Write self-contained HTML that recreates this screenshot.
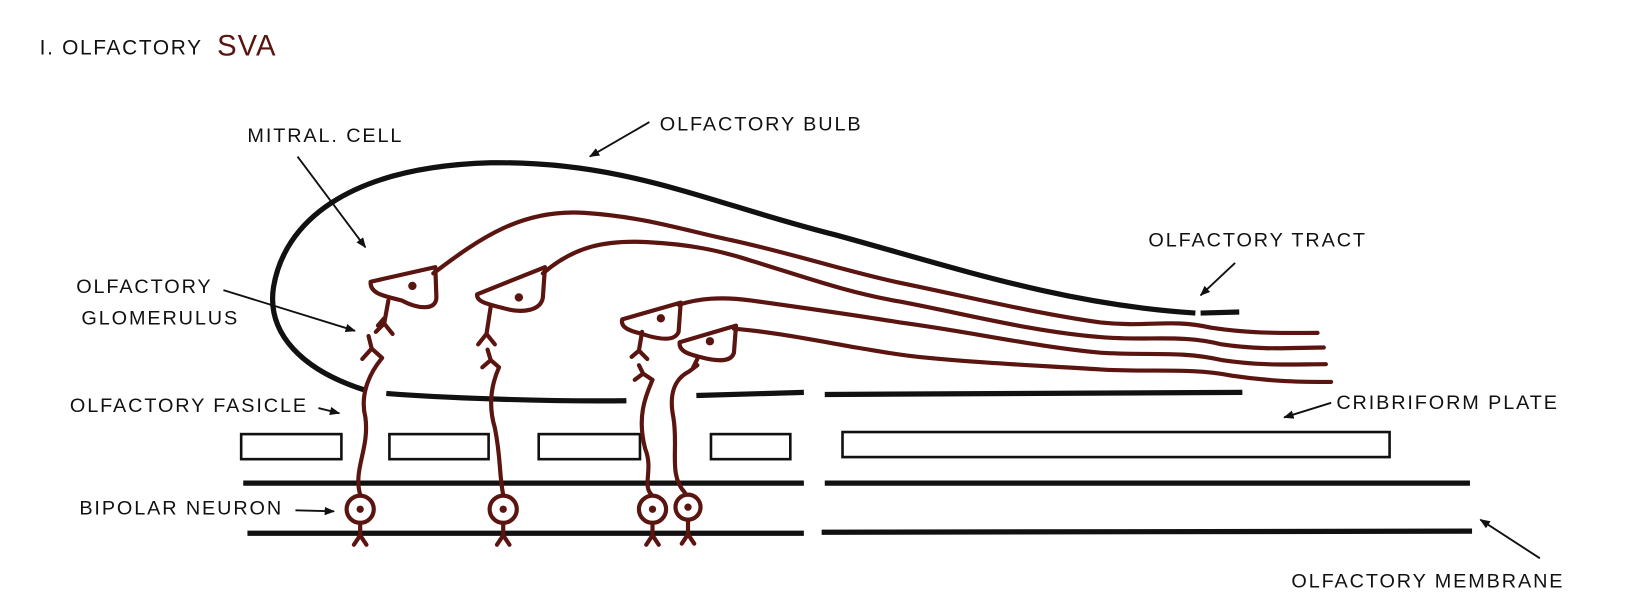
<!DOCTYPE html>
<html><head><meta charset="utf-8"><style>
html,body{margin:0;padding:0;background:#fff;width:1637px;height:599px;overflow:hidden}
svg{display:block}
text{font-family:"Liberation Sans",sans-serif;font-size:19px;fill:#111;letter-spacing:1.8px}
.k{fill:none;stroke:#111;stroke-width:5;stroke-linecap:butt}
.b{fill:none;stroke:#5a1510;stroke-width:4;stroke-linecap:round;stroke-linejoin:round}
.a{stroke:#111;stroke-width:1.8;fill:none}
</style></head><body>
<svg width="1637" height="599" viewBox="0 0 1568 574" preserveAspectRatio="none">
<defs><marker id="m" markerWidth="10" markerHeight="8" refX="9" refY="4" orient="auto" markerUnits="userSpaceOnUse"><path d="M0,0 L10,4 L0,8 z" fill="#111"/></marker></defs>
<text x="38" y="52" style="font-size:20px;letter-spacing:1.6px">I. OLFACTORY</text>
<text x="208" y="53" style="font-size:28px;fill:#5a1510;letter-spacing:1px">SVA</text>

<!-- labels -->
<text x="237" y="136">MITRAL. CELL</text>
<text x="632" y="125">OLFACTORY BULB</text>
<text x="1100" y="236">OLFACTORY TRACT</text>
<text x="73" y="281">OLFACTORY</text>
<text x="78" y="311">GLOMERULUS</text>
<text x="67" y="395">OLFACTORY FASICLE</text>
<text x="1280" y="392">CRIBRIFORM PLATE</text>
<text x="76" y="493">BIPOLAR NEURON</text>
<text x="1237" y="563">OLFACTORY MEMBRANE</text>

<!-- arrows -->
<line class="a" x1="285" y1="150" x2="350" y2="237" marker-end="url(#m)"/>
<line class="a" x1="622" y1="117" x2="565" y2="150" marker-end="url(#m)"/>
<line class="a" x1="1183" y1="252" x2="1150" y2="283" marker-end="url(#m)"/>
<line class="a" x1="214" y1="278" x2="340" y2="317" marker-end="url(#m)"/>
<line class="a" x1="305" y1="391" x2="325" y2="396" marker-end="url(#m)"/>
<line class="a" x1="1275" y1="386" x2="1230" y2="400" marker-end="url(#m)"/>
<line class="a" x1="283" y1="489" x2="320" y2="490" marker-end="url(#m)"/>
<line class="a" x1="1475" y1="535" x2="1418" y2="498" marker-end="url(#m)"/>

<!-- bulb -->
<path class="k" d="M350,374 C290,355 255,320 262,275 C272,215 330,160 470,156 C600,154 680,195 800,225 C920,258 1020,292 1145,300"/>
<path class="k" d="M1150,300 L1187,299"/>
<path class="k" d="M370,377 C420,381 520,385 600,384"/>
<path class="k" d="M667,379 L770,376"/>
<path class="k" d="M790,378 L1190,376"/>

<!-- cribriform plates -->
<g fill="none" stroke="#111" stroke-width="2.5">
<rect x="231" y="416" width="96" height="24"/>
<rect x="373" y="416" width="95" height="24"/>
<rect x="516" y="416" width="97" height="24"/>
<rect x="681" y="416" width="76" height="24"/>
<rect x="807" y="414" width="524" height="24"/>
</g>
<!-- membrane lines -->
<path class="k" d="M233,463 L770,463 M790,463 L1408,463 M237,511 L770,511 M787,510 L1410,509"/>

<!-- mitral axons -->
<path class="b" d="M415,262 C460,228 500,200 560,204 C620,208 660,222 700,230 C760,243 810,260 862,271 C930,285 990,300 1054,309 C1100,314 1120,305 1160,314 C1200,320 1230,319 1262,319"/>
<path class="b" d="M520,262 C550,236 580,230 620,232 C660,234 690,240 720,250 C770,265 810,280 862,289 C930,302 990,318 1054,323 C1100,327 1130,320 1170,330 C1210,336 1240,333 1268,333"/>
<path class="b" d="M650,292 C670,286 690,284 720,288 C770,295 820,302 862,309 C930,318 990,332 1054,338 C1100,341 1130,336 1170,345 C1210,351 1240,349 1270,349"/>
<path class="b" d="M703,315 C740,318 780,326 820,333 C850,338 860,340 880,342 C940,348 990,350 1054,354 C1100,357 1140,352 1180,360 C1220,366 1250,366 1275,366"/>

<!-- mitral cell bodies -->
<path class="b" d="M355,270 L417,256 L418,285 C418,298 400,296 385,288 C370,284 354,282 355,270 z"/>
<path class="b" d="M457,282 L522,256 L520,285 C518,298 500,300 485,296 C470,292 456,290 457,282 z"/>
<path class="b" d="M596,306 L652,290 L650,318 C646,328 630,325 615,320 C603,317 594,314 596,306 z"/>
<path class="b" d="M651,328 L705,312 L703,338 C700,348 685,346 670,342 C658,339 650,336 651,328 z"/>
<g fill="#5a1510">
<circle cx="395" cy="274" r="4"/><circle cx="497" cy="285" r="4"/><circle cx="633" cy="305" r="4"/><circle cx="680" cy="327" r="4"/>
</g>

<!-- glomerulus dendrites -->
<path class="b" d="M372,288 L368,310 M368,310 L360,318 M368,310 L376,320 M368,305 L362,312"/>
<path class="b" d="M470,294 L466,320 M466,320 L458,330 M466,320 L474,330"/>
<path class="b" d="M615,318 L612,336 M612,336 L605,342 M612,336 L620,344"/>
<path class="b" d="M668,344 L664,352"/>

<!-- bipolar neurons axons upward -->
<path class="b" d="M353,322 L356,334 M356,334 L347,344 M356,334 L366,343 C352,360 345,380 350,400 C354,430 338,450 345,474"/>
<path class="b" d="M467,335 L470,345 M470,345 L462,352 M470,345 L478,352 C470,370 468,390 474,410 C480,440 478,455 482,474"/>
<path class="b" d="M612,350 L616,358 M616,358 L608,364 M616,358 L625,364 C618,380 610,400 618,430 C626,450 615,465 624,474"/>
<path class="b" d="M668,350 L660,356 C648,362 640,375 645,400 C650,430 640,455 656,472"/>

<!-- bipolar bodies -->
<g fill="#fff" stroke="#5a1510" stroke-width="4">
<circle cx="345" cy="488" r="13"/><circle cx="482" cy="488" r="13"/><circle cx="625" cy="488" r="13"/><circle cx="659" cy="486" r="12"/>
</g>
<g fill="#5a1510">
<circle cx="345" cy="488" r="3.5"/><circle cx="482" cy="488" r="3.5"/><circle cx="625" cy="488" r="3.5"/><circle cx="659" cy="486" r="3.5"/>
</g>
<path class="b" d="M345,501 L345,513 L339,522 M345,513 L351,522 M482,501 L482,513 L476,522 M482,513 L488,522 M625,501 L625,513 L619,522 M625,513 L631,522 M659,498 L659,512 L653,521 M659,512 L665,521"/>
</svg>
</body></html>
